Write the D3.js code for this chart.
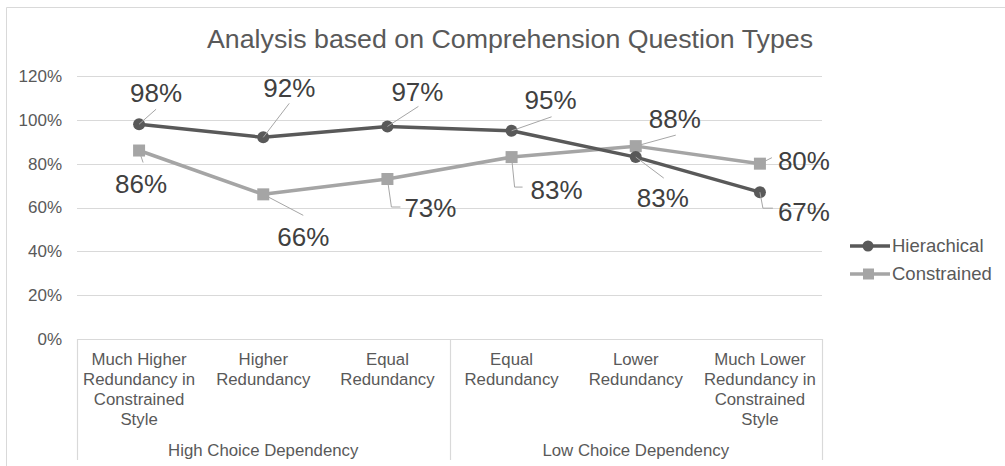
<!DOCTYPE html>
<html>
<head>
<meta charset="utf-8">
<script src="https://cdn.jsdelivr.net/npm/d3@7"></script>
<style>
  html, body { margin: 0; padding: 0; background: #fff; }
  svg { display: block; font-family: "Liberation Sans", Arial, sans-serif; }
</style>
</head>
<body>
<div id="chart"></div>
<script>
// chart data
var categories = [
  "Much Higher Redundancy in Constrained Style",
  "Higher Redundancy",
  "Equal Redundancy",
  "Equal Redundancy",
  "Lower Redundancy",
  "Much Lower Redundancy in Constrained Style"
];
var groups = ["High Choice Dependency", "Low Choice Dependency"];
var groupSize = [3, 3];
var hierachical = [0.98, 0.92, 0.97, 0.95, 0.83, 0.67];
var constrained = [0.86, 0.66, 0.73, 0.83, 0.88, 0.80];
var yTicks = [0, 0.2, 0.4, 0.6, 0.8, 1.0, 1.2];

// label placement (offset of label centre from its point) and leader line bends
var labelPosH = [[17, -31], [26, -49], [30, -35], [39, -31], [27, 41], [44, 20]];
var leaderH = [[[17, -15]], [[26, -34]], [[31, -20]], [[40, -14]], [[28, 21]], [[3, 16], [13, 16]]];
var labelPosC = [[2, 33], [40, 43], [43, 29], [45, 33], [39, -27], [44, -3]];
var leaderC = [[[4, 12]], [[40, 21]], [[4, 28], [13, 28]], [[3, 30], [11, 30]], [[40, -11]], [[12, -6]]];

var W = 1005, H = 466;
var margin = { left: 77, right: 183, top: 76, bottom: 127 };

var svg = d3.select("#chart").append("svg")
  .attr("width", W)
  .attr("height", H);

// outer chart border
svg.append("path")
  .attr("d", "M6.5," + H + "V7.5H" + W)
  .attr("fill", "none")
  .attr("stroke", "#d9d9d9");

var x = d3.scaleBand()
  .domain(d3.range(categories.length))
  .range([margin.left, W - margin.right]);

var y = d3.scaleLinear()
  .domain([0, 1.2])
  .range([H - margin.bottom, margin.top]);

var cx = function (i) { return x(i) + x.bandwidth() / 2; };

// title
svg.append("text")
  .attr("x", 510)
  .attr("y", 48)
  .attr("text-anchor", "middle")
  .attr("font-size", "26px")
  .attr("textLength", 606)
  .attr("lengthAdjust", "spacingAndGlyphs")
  .attr("fill", "#595959")
  .text("Analysis based on Comprehension Question Types");

// gridlines
svg.append("g")
  .selectAll("line")
  .data(yTicks)
  .enter().append("line")
  .attr("x1", margin.left)
  .attr("x2", W - margin.right)
  .attr("y1", function (d) { return Math.round(y(d)) + 0.5; })
  .attr("y2", function (d) { return Math.round(y(d)) + 0.5; })
  .attr("stroke", "#d9d9d9")
  .attr("stroke-width", 1.2);

// y axis labels
var yAxis = d3.axisLeft(y).tickValues(yTicks).tickFormat(d3.format(".0%")).tickSize(0).tickPadding(15);
var yg = svg.append("g")
  .attr("transform", "translate(" + margin.left + ",0)")
  .call(yAxis);
yg.select(".domain").remove();
yg.selectAll("text")
  .attr("font-size", "17px")
  .attr("font-family", "Liberation Sans, Arial, sans-serif")
  .attr("fill", "#595959");

// category axis: group separators
var bottomY = H - 6;
var sep = [0];
groupSize.forEach(function (n, i) { sep.push(sep[i] + n); });
svg.append("g")
  .selectAll("line")
  .data(sep)
  .enter().append("line")
  .attr("x1", function (d) { return Math.round(d < categories.length ? x(d) : x.range()[1]) + 0.5; })
  .attr("x2", function (d) { return Math.round(d < categories.length ? x(d) : x.range()[1]) + 0.5; })
  .attr("y1", y(0))
  .attr("y2", bottomY)
  .attr("stroke", "#d9d9d9")
  .attr("stroke-width", 1.2);

// category labels, wrapped
function wrapLines(str, maxW, size) {
  var tmp = svg.append("text").attr("font-size", size);
  var words = str.split(" "), lines = [], cur = "";
  words.forEach(function (w) {
    var test = cur ? cur + " " + w : w;
    tmp.text(test);
    if (tmp.node().getComputedTextLength() > maxW && cur) {
      lines.push(cur);
      cur = w;
    } else {
      cur = test;
    }
  });
  lines.push(cur);
  tmp.remove();
  return lines;
}

categories.forEach(function (c, i) {
  var lines = wrapLines(c, x.bandwidth() - 6, "16.8px");
  var t = svg.append("text")
    .attr("text-anchor", "middle")
    .attr("font-size", "16.8px")
    .attr("fill", "#595959");
  lines.forEach(function (l, j) {
    t.append("tspan")
      .attr("x", cx(i))
      .attr("y", y(0) + 26 + j * 20)
      .text(l);
  });
});

// group labels
groups.forEach(function (g, i) {
  var a = sep[i], b = sep[i + 1];
  var mid = (x(a) + (b < categories.length ? x(b) : x.range()[1])) / 2;
  svg.append("text")
    .attr("x", mid)
    .attr("y", y(0) + 117)
    .attr("text-anchor", "middle")
    .attr("font-size", "16.8px")
    .attr("fill", "#595959")
    .text(g);
});

var line = d3.line()
  .x(function (d, i) { return cx(i); })
  .y(function (d) { return y(d); });

var series = [
  { name: "Hierachical", values: hierachical, color: "#595959", marker: "circle", pos: labelPosH, leader: leaderH },
  { name: "Constrained", values: constrained, color: "#a5a5a5", marker: "square", pos: labelPosC, leader: leaderC }
];

// draw constrained first so hierachical sits on top, like the reference
[series[1], series[0]].forEach(function (s) {
  svg.append("path")
    .datum(s.values)
    .attr("d", line)
    .attr("fill", "none")
    .attr("stroke", s.color)
    .attr("stroke-width", 3.5)
    .attr("stroke-linejoin", "round");

  if (s.marker === "circle") {
    svg.append("g").selectAll("circle")
      .data(s.values)
      .enter().append("circle")
      .attr("cx", function (d, i) { return cx(i); })
      .attr("cy", function (d) { return y(d); })
      .attr("r", 6)
      .attr("fill", s.color);
  } else {
    svg.append("g").selectAll("rect")
      .data(s.values)
      .enter().append("rect")
      .attr("x", function (d, i) { return cx(i) - 6; })
      .attr("y", function (d) { return y(d) - 6; })
      .attr("width", 12)
      .attr("height", 12)
      .attr("fill", s.color);
  }
});

// data labels with leader lines
series.forEach(function (s) {
  s.values.forEach(function (v, i) {
    var px = cx(i), py = y(v);
    var pts = [[px, py]].concat(s.leader[i].map(function (p) { return [px + p[0], py + p[1]]; }));
    svg.append("path")
      .attr("d", d3.line()(pts))
      .attr("fill", "none")
      .attr("stroke", "#a6a6a6")
      .attr("stroke-width", 1);
    svg.append("text")
      .attr("x", px + s.pos[i][0])
      .attr("y", py + s.pos[i][1])
      .attr("dy", "0.35em")
      .attr("text-anchor", "middle")
      .attr("font-size", "26px")
      .attr("fill", "#404040")
      .text(d3.format(".0%")(v));
  });
});

// legend
var legend = svg.append("g").attr("transform", "translate(850,0)");
series.forEach(function (s, i) {
  var ly = 246 + i * 28;
  legend.append("line")
    .attr("x1", 0).attr("x2", 40)
    .attr("y1", ly).attr("y2", ly)
    .attr("stroke", s.color)
    .attr("stroke-width", 3.5);
  if (s.marker === "circle") {
    legend.append("circle").attr("cx", 18).attr("cy", ly).attr("r", 5.5).attr("fill", s.color);
  } else {
    legend.append("rect").attr("x", 13).attr("y", ly - 5.5).attr("width", 11).attr("height", 11).attr("fill", s.color);
  }
  legend.append("text")
    .attr("x", 42)
    .attr("y", ly)
    .attr("dy", "0.35em")
    .attr("font-size", "18.5px")
    .attr("fill", "#595959")
    .text(s.name);
});
</script>
</body>
</html>
